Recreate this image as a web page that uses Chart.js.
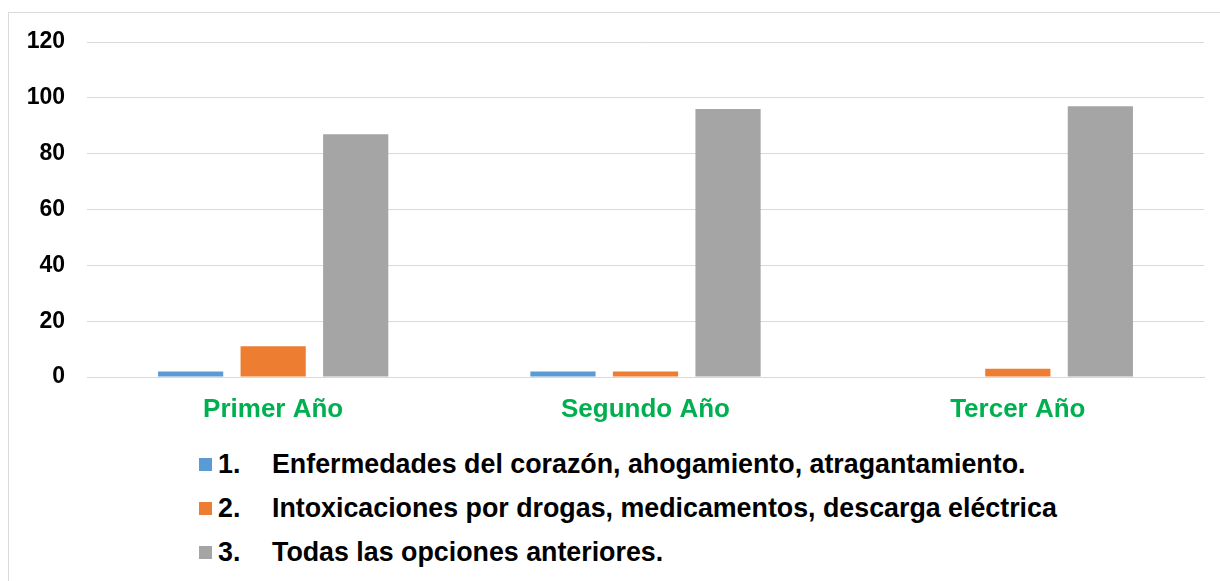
<!DOCTYPE html>
<html lang="es">
<head>
<meta charset="utf-8">
<script src="https://cdn.jsdelivr.net/npm/chart.js@4/dist/chart.umd.min.js"></script>
<style>
  html, body { margin: 0; padding: 0; background: #fff; overflow: hidden; }
  body { width: 1220px; height: 581px; position: relative; font-family: "Liberation Sans", Arial, sans-serif; }
  #frame { position: absolute; left: 8px; top: 12px; width: 1240px; height: 600px; border: 1px solid #d9d9d9; box-sizing: border-box; }
  #wrap { position: absolute; left: 0; top: 0; width: 1220px; height: 440px; }
  #legend { position: absolute; left: 199px; top: 442px; font-weight: bold; font-size: 26.8px; color: #000; }
  .row { display: flex; align-items: center; height: 44px; white-space: nowrap; }
  .box { width: 13px; height: 13px; margin-right: 6px; }
  .num { width: 54px; }
</style>
</head>
<body>
<div id="frame"></div>
<div id="wrap"><canvas id="c"></canvas></div>
<div id="legend"></div>
<script>
// Categories (school year) and number of answers per option
const categories = ["Primer Año", "Segundo Año", "Tercer Año"];
const seriesNames = [
  "Enfermedades del corazón, ahogamiento, atragantamiento.",
  "Intoxicaciones por drogas, medicamentos, descarga eléctrica",
  "Todas las opciones anteriores."
];
const seriesNumbers = ["1.", "2.", "3."];
const option1 = [2, 2, 0];
const option2 = [11, 2, 3];
const option3 = [87, 96, 97];
const yTicks = [0, 20, 40, 60, 80, 100, 120];

const colors = ["#5B9BD5", "#ED7D31", "#A5A5A5"];
const seriesValues = [option1, option2, option3];

const datasets = seriesValues.map((vals, i) => ({
  label: seriesNumbers[i] + " " + seriesNames[i],
  data: vals,
  backgroundColor: colors[i],
  borderWidth: 0,
  categoryPercentage: 0.665,
  barPercentage: 0.79
}));

new Chart(document.getElementById("c"), {
  type: "bar",
  data: { labels: categories, datasets },
  options: {
    responsive: true,
    maintainAspectRatio: false,
    animation: false,
    layout: { padding: { left: 0, right: 16, top: 42, bottom: 0 } },
    plugins: { legend: { display: false }, tooltip: { enabled: false } },
    scales: {
      x: {
        grid: { display: false, drawTicks: false },
        border: { display: true, color: "#d9d9d9", width: 1 },
        ticks: {
          color: "#00B050",
          font: { family: "Liberation Sans", weight: "bold", size: 26 },
          padding: 17
        },
        afterFit: (s) => { s.height = 63; }
      },
      y: {
        min: 0,
        max: 120,
        afterBuildTicks: (s) => { s.ticks = yTicks.map(v => ({ value: v })); },
        grid: { color: "#d9d9d9", lineWidth: 1, drawTicks: false },
        border: { display: false },
        ticks: {
          color: "#000",
          font: { family: "Liberation Sans", weight: "bold", size: 23 },
          padding: 22
        },
        afterFit: (s) => { s.width = 87; }
      }
    }
  }
});

// Legend listed one option per row
const legend = document.getElementById("legend");
seriesNames.forEach((name, i) => {
  const row = document.createElement("div");
  row.className = "row";
  row.innerHTML = '<span class="box" style="background:' + colors[i] + '"></span>' +
    '<span class="num">' + seriesNumbers[i] + '</span><span>' + name + '</span>';
  legend.appendChild(row);
});
</script>
</body>
</html>
